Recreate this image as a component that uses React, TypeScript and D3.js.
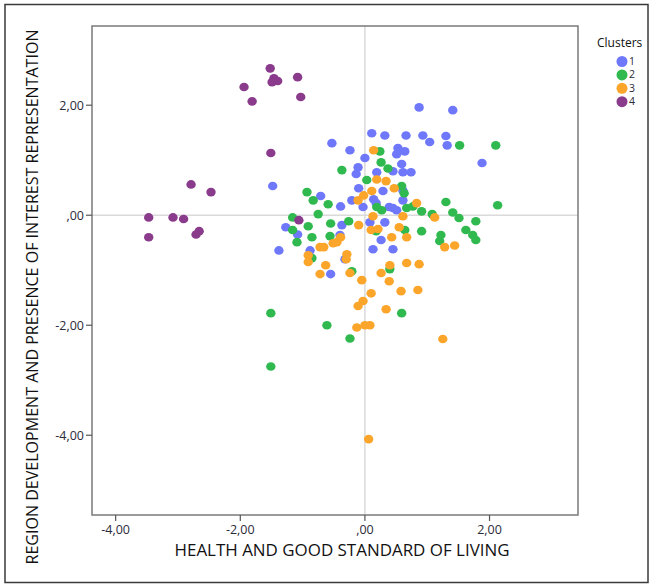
import React from "react";
import * as d3 from "d3";

const clusterNames = ["1", "2", "3", "4"];
const clusterColors = ["#6f78fa", "#30b94f", "#fba52b", "#8a3b8c"];

const xTicks = [-4, -2, 0, 2];
const yTicks = [2, 0, -2, -4];

const cluster1X = [0.87, 1.41, 0.11, 0.32, 0.66, 0.93, 1.04, 1.30, 1.32, -0.53, -0.24, 0.53, 0.64, 0.51, 0.59, 1.88, 0.00, -0.11, -0.14, 0.19, 0.45, 0.61, 0.74, -1.48, -0.71, -0.10, 0.29, 0.61, 0.61, -0.21, 0.14, -0.39, -0.03, 0.39, 0.51, 0.45, 0.32, 0.08, -1.27, -1.08, -0.37, -0.40, 0.26, -1.38, -0.88, 0.13, 0.45, -0.32, -0.55, 0.18];
const cluster1Y = [1.96, 1.91, 1.49, 1.45, 1.45, 1.45, 1.33, 1.44, 1.27, 1.31, 1.18, 1.22, 1.16, 1.11, 0.93, 0.95, 1.04, 0.87, 0.75, 0.78, 0.80, 0.78, 0.78, 0.53, 0.35, 0.49, 0.44, 0.45, 0.27, 0.27, 0.29, 0.16, 0.15, 0.15, 0.09, 0.13, -0.13, -0.13, -0.22, -0.35, -0.18, -0.36, -0.45, -0.64, -0.64, -0.62, -0.62, -0.80, -1.07, 0.22];

const cluster2X = [1.52, 2.10, 0.24, 0.26, 0.37, -0.37, -0.93, -0.83, -0.59, 0.03, 0.59, 0.63, 0.19, 0.27, 0.67, 0.77, 0.91, 1.08, 1.30, 1.41, 1.51, 1.78, 2.13, -1.16, -0.75, -0.91, -0.55, -0.26, -1.16, -1.09, -0.85, -0.56, 0.18, 0.64, 0.91, 1.22, 1.20, 1.62, 1.73, 1.78, -0.85, -0.21, 0.40, -1.51, -0.61, -0.24, -1.51, 0.59];
const cluster2Y = [1.27, 1.27, 1.16, 0.96, 0.85, 0.82, 0.42, 0.27, 0.20, 0.64, 0.53, 0.40, 0.15, 0.09, 0.13, 0.16, 0.07, 0.02, 0.24, 0.05, -0.05, -0.11, 0.18, -0.04, 0.02, -0.20, -0.15, -0.11, -0.27, -0.49, -0.40, -0.38, -0.29, -0.27, -0.29, -0.36, -0.47, -0.27, -0.36, -0.45, -0.78, -1.02, -0.98, -1.78, -2.00, -2.24, -2.75, -1.78];

const cluster3X = [0.14, 0.19, 0.34, 0.47, 0.11, -0.02, -0.11, 0.83, 0.13, 0.61, 1.12, -0.10, 0.55, 0.10, 0.21, 0.43, 0.67, -0.39, -0.45, -0.51, -0.72, -0.66, -0.91, -0.91, -0.29, -0.30, -0.63, 1.28, 1.44, 0.40, 0.67, 0.87, -0.72, -0.24, 0.26, 0.39, -0.05, 0.58, 0.85, 0.10, -0.03, -0.11, 0.34, -0.13, 0.00, 0.08, 1.25, 0.06];
const cluster3Y = [1.18, 0.65, 0.62, 0.49, 0.44, 0.36, 0.27, 0.22, -0.02, -0.02, -0.04, -0.18, -0.22, -0.27, -0.25, -0.40, -0.40, -0.40, -0.49, -0.51, -0.58, -0.58, -0.73, -0.85, -0.71, -0.80, -0.91, -0.58, -0.55, -0.91, -0.87, -0.89, -1.07, -1.05, -1.05, -1.20, -1.18, -1.38, -1.36, -1.42, -1.56, -1.65, -1.71, -2.04, -2.00, -2.00, -2.25, -4.07];

const cluster4X = [-1.52, -1.46, -1.40, -1.49, -1.08, -1.94, -1.81, -1.03, -1.51, -2.79, -2.47, -3.47, -3.08, -2.91, -3.47, -2.71, -2.66, -1.06];
const cluster4Y = [2.67, 2.49, 2.44, 2.42, 2.51, 2.33, 2.07, 2.15, 1.13, 0.56, 0.42, -0.04, -0.04, -0.07, -0.40, -0.35, -0.29, -0.09];

const seriesX = [cluster1X, cluster2X, cluster3X, cluster4X];
const seriesY = [cluster1Y, cluster2Y, cluster3Y, cluster4Y];

const xTitle = "HEALTH AND GOOD STANDARD OF LIVING";
const yTitle = "REGION DEVELOPMENT AND PRESENCE OF INTEREST REPRESENTATION";
const legendTitle = "Clusters";

const W = 653;
const H = 587;
const plot = { left: 92, right: 578, top: 26, bottom: 515 };

const fmt = (v: number) => {
  const s = d3.format(".2f")(v).replace(".", ",").replace("−", "-");
  return s.replace(/^(-?)0,/, "$1,");
};

export default function App() {
  const x = d3.scaleLinear().domain([-4.38, 3.42]).range([plot.left, plot.right]);
  const y = d3.scaleLinear().domain([3.44, -5.45]).range([plot.top, plot.bottom]);
  const font = "'Open Sans', 'DejaVu Sans', sans-serif";
  const tickColor = "#2b2b3a";

  return (
    <svg
      width={W}
      height={H}
      style={{ position: "absolute", left: 0, top: 0, background: "#fff" }}
      fontFamily={font}
    >
      <rect x={0} y={0} width={W} height={H} fill="#fff" />
      <rect x={5} y={4.5} width={643} height={578} fill="none" stroke="#3a3a3a" strokeWidth={1.5} />

      {/* reference lines */}
      <line x1={x(0)} x2={x(0)} y1={plot.top} y2={plot.bottom} stroke="#dadada" strokeWidth={1.5} />
      <line x1={plot.left} x2={plot.right} y1={y(0)} y2={y(0)} stroke="#dadada" strokeWidth={1.5} />

      {/* points */}
      {seriesX.map((xs, si) => (
        <g key={si} fill={clusterColors[si]}>
          {xs.map((xv, i) => (
            <ellipse key={i} cx={x(xv)} cy={y(seriesY[si][i])} rx={4.7} ry={4.3} />
          ))}
        </g>
      ))}

      {/* frame */}
      <rect
        x={plot.left}
        y={plot.top}
        width={plot.right - plot.left}
        height={plot.bottom - plot.top}
        fill="none"
        stroke="#7a7a7a"
        strokeWidth={1.5}
      />

      {/* x axis ticks */}
      {xTicks.map((t) => (
        <g key={"x" + t}>
          <line x1={x(t)} x2={x(t)} y1={plot.bottom} y2={plot.bottom + 6} stroke="#555" strokeWidth={1.2} />
          <text x={x(t)} y={plot.bottom + 19} textAnchor="middle" fontSize={12.5} fill={tickColor}>
            {fmt(t)}
          </text>
        </g>
      ))}

      {/* y axis ticks */}
      {yTicks.map((t) => (
        <g key={"y" + t}>
          <line x1={plot.left - 6} x2={plot.left} y1={y(t)} y2={y(t)} stroke="#555" strokeWidth={1.2} />
          <text x={plot.left - 8} y={y(t) + 4.5} textAnchor="end" fontSize={12.5} fill={tickColor}>
            {fmt(t)}
          </text>
        </g>
      ))}

      <text
        x={342}
        y={556}
        textAnchor="middle"
        fontSize={16}
        fill="#111"
        textLength={335}
        lengthAdjust="spacingAndGlyphs"
      >
        {xTitle}
      </text>
      <text
        transform={`translate(38, 297) rotate(-90)`}
        textAnchor="middle"
        fontSize={16}
        fill="#111"
        textLength={535}
        lengthAdjust="spacingAndGlyphs"
      >
        {yTitle}
      </text>

      {/* legend */}
      <text x={597} y={47} fontSize={12} fill="#111">
        {legendTitle}
      </text>
      {clusterNames.map((n, i) => (
        <g key={n}>
          <circle cx={622} cy={61.5 + i * 13.4} r={5.5} fill={clusterColors[i]} />
          <text x={629} y={65 + i * 13.4} fontSize={10.5} fill={tickColor}>
            {n}
          </text>
        </g>
      ))}
    </svg>
  );
}
